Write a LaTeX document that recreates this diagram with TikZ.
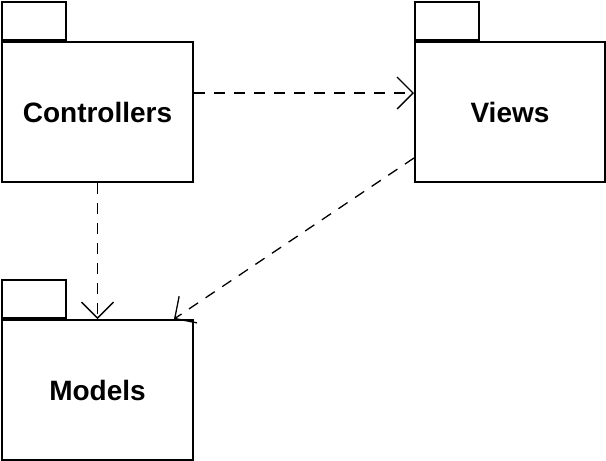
\documentclass[tikz,border=0pt]{standalone}
\usepackage{fontspec}
\setmainfont{Liberation Sans}
\usetikzlibrary{arrows.meta}
\begin{document}
\begin{tikzpicture}[x=1pt,y=-1pt,
  pkg/.style={draw,line width=2pt,minimum width=191pt,minimum height=140pt,inner sep=0pt,
    font=\fontsize{28}{32}\selectfont\bfseries},
  pkgtab/.style={draw,line width=2pt,minimum width=64pt,minimum height=38pt,inner sep=0pt,anchor=south west},
  dep/.style={line width=1.3pt,dash pattern=on 11pt off 9pt,-{Straight Barb[length=16pt,width=32pt,line width=1.3pt]}}]
\useasboundingbox (0,0) rectangle (606,461);
\node[pkg] (C) at (97.5,112) {Controllers};
\node[pkg,minimum width=190pt] (V) at (510,112) {Views};
\node[pkg] (M) at (97.5,390) {Models};
\node[pkgtab] (Ct) at (C.north west) {};
\node[pkgtab] (Vt) at (V.north west) {};
\node[pkgtab] (Mt) at (M.north west) {};
\coordinate (cv) at ([yshift=19pt]C.east);
\coordinate (vm) at ([yshift=-46pt]V.west);
\coordinate (mt) at ([xshift=-20pt]M.north east);
\draw[dep] (cv) -- (V.west |- cv);
\draw[dep] (C.south) -- (M.north);
\draw[dep] (vm) -- (mt);
\end{tikzpicture}
\end{document}
